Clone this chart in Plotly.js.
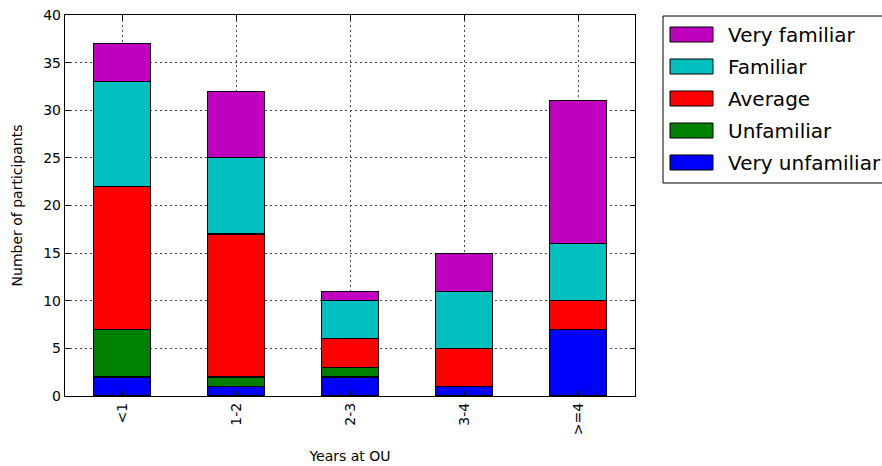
<!DOCTYPE html>
<html>
<head>
<meta charset="utf-8">
<script src="https://cdn.plot.ly/plotly-3.0.1.min.js"></script>
<style>html,body{margin:0;padding:0;background:#fff}#chart{width:882px;height:466px}</style>
</head>
<body>
<div id="chart"></div>
<script>
// Years at OU groups
const years = ["<1", "1-2", "2-3", "3-4", ">=4"];

// Participant counts per familiarity level
const veryUnfamiliar = [2, 1, 2, 1, 7];
const unfamiliar     = [5, 1, 1, 0, 0];
const average        = [15, 15, 3, 4, 3];
const familiar       = [11, 8, 4, 6, 6];
const veryFamiliar   = [4, 7, 1, 4, 15];

const seriesNames  = ["Very unfamiliar", "Unfamiliar", "Average", "Familiar", "Very familiar"];
const seriesValues = [veryUnfamiliar, unfamiliar, average, familiar, veryFamiliar];
const seriesColors = ["#0000ff", "#008000", "#ff0000", "#00bfbf", "#bf00bf"];

const traces = seriesNames.map((name, i) => ({
  type: "bar",
  name: name,
  x: years,
  y: seriesValues[i],
  width: 0.5,
  marker: { color: seriesColors[i], line: { color: "#000", width: 1.2 } }
}));

const axisCommon = {
  showline: true, linecolor: "#000", linewidth: 1.2, mirror: "ticks",
  ticks: "inside", ticklen: 5, tickcolor: "#000",
  showgrid: true, gridcolor: "#444", griddash: "2px,3px", gridwidth: 1,
  zeroline: false,
  tickfont: { family: "DejaVu Sans", size: 14, color: "#000" }
};

// Legend drawn in pixel space to the right of the plot (top entry first)
const W = 882, H = 466, mL = 65, mR = 247, mT = 15, mB = 70;
const plotW = W - mL - mR, plotH = H - mT - mB;
const px = x => (x - mL) / plotW;          // pixel x -> paper x
const py = y => (H - mB - y) / plotH;      // pixel y -> paper y

const shapes = [{
  type: "rect", xref: "paper", yref: "paper",
  x0: px(663), x1: px(900), y0: py(183), y1: py(16),
  line: { color: "#000", width: 1 }, fillcolor: "#fff", layer: "above"
}];
const annotations = [];
for (let k = 0; k < seriesNames.length; k++) {
  const i = seriesNames.length - 1 - k;
  const cy = 34.5 + 32 * k;
  shapes.push({
    type: "rect", xref: "paper", yref: "paper",
    x0: px(670), x1: px(713), y0: py(cy + 7.5), y1: py(cy - 7.5),
    line: { color: "#000", width: 1 }, fillcolor: seriesColors[i], layer: "above"
  });
  annotations.push({
    xref: "paper", yref: "paper", x: px(726), y: py(cy),
    xanchor: "left", yanchor: "middle", showarrow: false,
    text: seriesNames[i], font: { family: "DejaVu Sans", size: 20, color: "#000" }
  });
}

const layout = {
  width: W, height: H,
  margin: { l: mL, r: mR, t: mT, b: mB },
  paper_bgcolor: "#fff", plot_bgcolor: "#fff",
  barmode: "stack",
  font: { family: "DejaVu Sans", color: "#000" },
  xaxis: Object.assign({}, axisCommon, {
    type: "category", range: [-0.5, 4.5], tickangle: -90,
    title: { text: "Years at OU", font: { size: 14 }, standoff: 17 }
  }),
  yaxis: Object.assign({}, axisCommon, {
    range: [0, 40], dtick: 5,
    title: { text: "Number of participants", font: { size: 14 }, standoff: 17 }
  }),
  showlegend: false,
  shapes: shapes,
  annotations: annotations
};

Plotly.newPlot("chart", traces, layout, { displayModeBar: false, staticPlot: true });
</script>
</body>
</html>
